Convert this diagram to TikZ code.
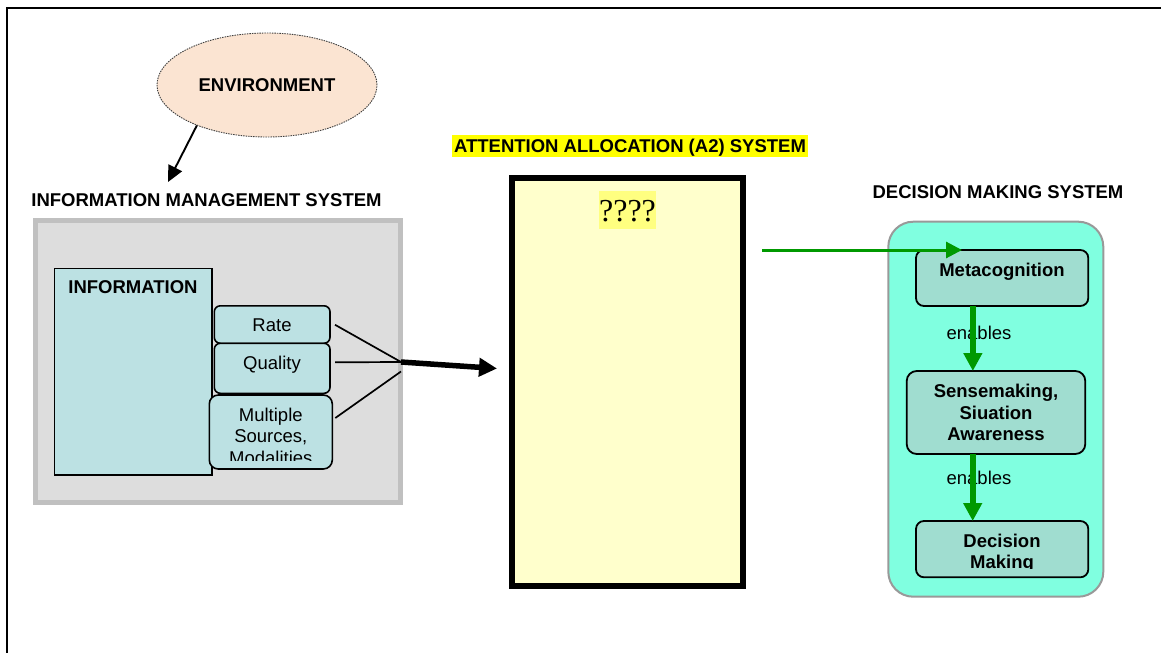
\documentclass[tikz,border=0pt]{standalone}
\usepackage{fontspec}
\setmainfont{Liberation Sans}
\newfontfamily\qfont{Liberation Serif}
\usetikzlibrary{arrows.meta,shapes.geometric}

\definecolor{envfill}{HTML}{FBE4D2}
\definecolor{envline}{HTML}{404040}
\definecolor{imsgray}{HTML}{DDDDDD}
\definecolor{imsborder}{HTML}{C0C0C0}
\definecolor{infofill}{HTML}{BCE1E3}
\definecolor{a2fill}{HTML}{FFFFCC}
\definecolor{hlyellow}{HTML}{FFFF00}
\definecolor{qhl}{HTML}{FFFF80}
\definecolor{dmfill}{HTML}{80FFE0}
\definecolor{dmborder}{HTML}{999999}
\definecolor{stepfill}{HTML}{A0DDD0}
\definecolor{arrowgreen}{HTML}{009900}

\begin{document}
\begin{tikzpicture}[x=1pt,y=-1pt,
  txt/.style={inner sep=0pt, align=center, font=\fontsize{18.5}{21.5}\selectfont},
  bold/.style={inner sep=0pt, align=center, font=\bfseries\fontsize{18.5}{21.5}\selectfont},
  boxat/.style 2 args={minimum width=#1, minimum height=#2, anchor=north west, inner sep=0pt, outer sep=0pt},
  attr/.style={draw=black, line width=1.6pt, fill=infofill, rounded corners=6pt},
  dmstep/.style={draw=black, line width=1.8pt, fill=stepfill, rounded corners=8pt},
  feed/.style={line width=1.7pt},
  enablearrow/.style={draw=arrowgreen, line width=6pt, -{Triangle[length=18pt,width=18pt]}},
]
\useasboundingbox (0,0) rectangle (1161,653);

% page frame (top and left rules)
\draw[line width=2.3pt] (1161,8) -- (7,8) -- (7,653);

% environment
\node[ellipse, draw=envline, fill=envfill, line width=0.9pt, dash pattern=on 1.5pt off 1pt,
      minimum width=220pt, minimum height=104pt, inner sep=0pt] (env) at (267,85) {};
\node[bold, anchor=base] (envtext) at (267,91.6) {ENVIRONMENT};
\coordinate (envto) at (168,182);
\draw[line width=1.9pt, -{Triangle[length=16pt,width=15pt]}] (env.210) -- (envto);

% information management system
\node[bold, anchor=base] (imstitle) at (206.5,206.6) {INFORMATION MANAGEMENT SYSTEM};
\node[boxat={365pt}{282pt}, draw=imsborder, line width=5pt, fill=imsgray] (ims) at (35.5,220.5) {};
\node[boxat={157.7pt}{206.7pt}, draw=black, line width=1.5pt, fill=infofill] (info) at (54.3,268.3) {};
\node[bold, anchor=base] (infotext) at (133,293.3) {INFORMATION};

\node[boxat={115.7pt}{37.5pt}, attr] (rate) at (214.3,305.8) {};
\node[boxat={115.7pt}{50pt}, attr] (quality) at (214.3,343.3) {};
\node[boxat={123pt}{74pt}, attr, rounded corners=9pt] (multi) at (209.3,395) {};
\node[txt, anchor=base] (ratetext) at (272,331.6) {Rate};
\node[txt, anchor=base] (qualitytext) at (272,369.8) {Quality};
\begin{scope}
  \clip (209.3,395) rectangle (332.3,460.5);
  \node[txt] (multitext) at (270.8,436) {Multiple\\Sources,\\Modalities};
\end{scope}

% feeds into the attention allocation system
\coordinate (join) at (401,362);
\coordinate (a2in) at (497,368.5);
\draw[feed] ([xshift=5pt,yshift=-0.2pt]rate.east) -- (join);
\draw[feed] ([xshift=5pt,yshift=6pt]quality.east) -- (join);
\draw[feed] ([xshift=3pt,yshift=14pt]multi.east) -- ([yshift=-9.5pt]join);
\draw[line width=5.5pt, -{Triangle[length=18pt,width=18pt]}] (join) -- (a2in);

% attention allocation system
\node[bold, anchor=base, fill=hlyellow, inner xsep=1.7pt, text height=17.6pt, text depth=4.7pt] (a2title) at (630,152.6) {ATTENTION ALLOCATION (A2) SYSTEM};
\node[boxat={230.5pt}{408pt}, draw=black, line width=6pt, fill=a2fill] (a2) at (512,178) {};
\node[anchor=base, inner sep=0pt, fill=qhl, minimum width=57pt, text height=30.7pt, text depth=7.3pt,
      font=\qfont\fontsize{32}{36}\selectfont] (unknown) at (627.5,221.7) {????};

% decision making system
\node[bold, anchor=base] (dmtitle) at (998,198.3) {DECISION MAKING SYSTEM};
\node[boxat={215pt}{375pt}, draw=dmborder, line width=2pt, fill=dmfill, rounded corners=25pt] (dm) at (888.3,221.7) {};
\node[boxat={172.3pt}{56pt}, dmstep] (meta) at (916,250) {};
\node[boxat={178.6pt}{83pt}, dmstep, rounded corners=10pt] (sense) at (906.7,371) {};
\node[boxat={172.3pt}{56.3pt}, dmstep] (dec) at (916,521) {};
\node[bold, anchor=base] (metatext) at (1002,276.6) {Metacognition};
\node[bold] (sensetext) at (996,412.7) {Sensemaking,\\Siuation\\Awareness};
\begin{scope}
  \clip (916,521) rectangle (1088.3,568.5);
  \node[bold] (dectext) at (1002,553.3) {Decision\\Making};
\end{scope}
\node[txt, anchor=base] (enables1) at (979,339) {enables};
\node[txt, anchor=base] (enables2) at (979,484) {enables};

\draw[enablearrow] ([xshift=-29.3pt]meta.south) -- ([xshift=-29.3pt]meta.south |- sense.north);
\draw[enablearrow] ([xshift=-23.3pt]sense.south) -- ([xshift=-23.3pt]sense.south |- dec.north);

% attention output into metacognition
\coordinate (a2out) at (762,250);
\draw[draw=arrowgreen, line width=3pt, -{Triangle[length=16pt,width=16pt]}] (a2out) -- ([xshift=46pt]meta.north west);
\end{tikzpicture}
\end{document}
